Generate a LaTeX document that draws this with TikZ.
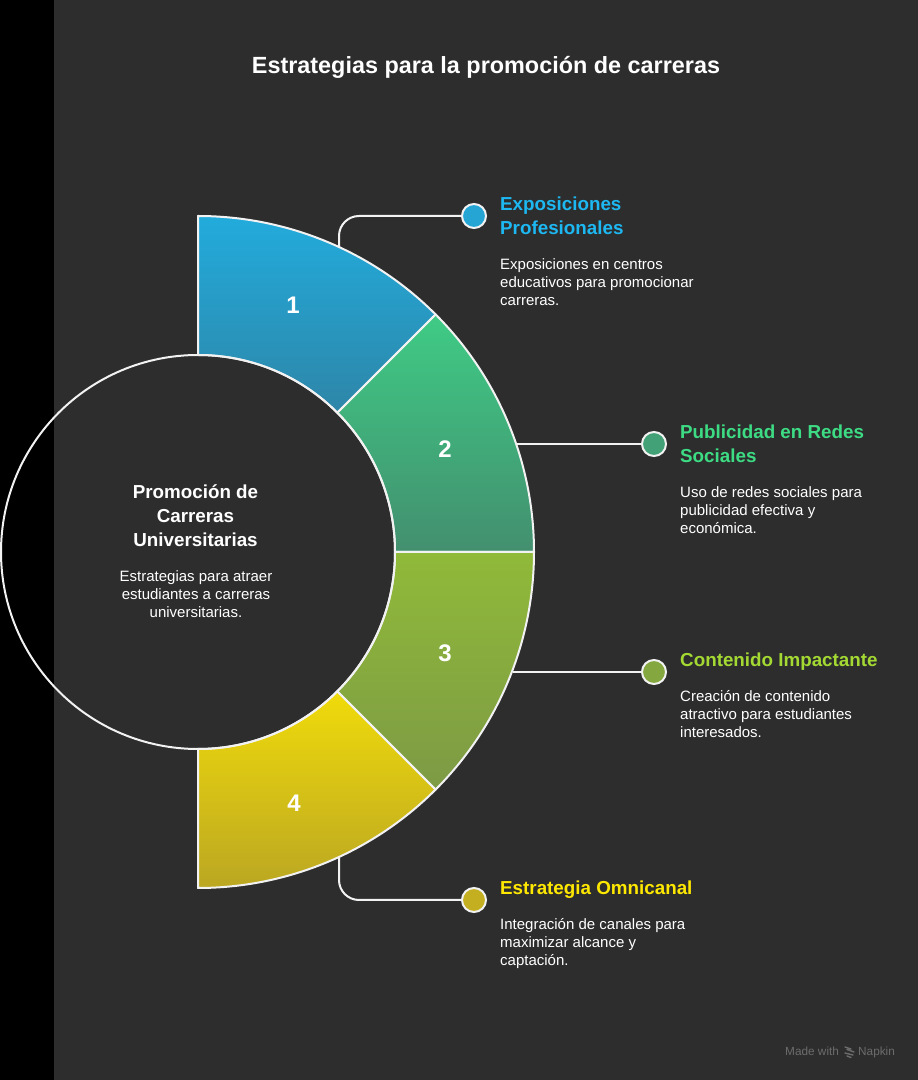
\documentclass[tikz,border=0pt]{standalone}
\usepackage{fontspec}
\setmainfont{Liberation Sans}
\usetikzlibrary{calc}
\definecolor{bgc}{HTML}{2D2D2D}
\definecolor{edgec}{HTML}{F2F2F2}
\definecolor{aT}{HTML}{22ABDC}\definecolor{aB}{HTML}{2E86A8}
\definecolor{bT}{HTML}{3FCB85}\definecolor{bB}{HTML}{438F6F}
\definecolor{cT}{HTML}{90BA39}\definecolor{cB}{HTML}{7D9A45}
\definecolor{dT}{HTML}{F0DB0B}\definecolor{dB}{HTML}{BBA722}
\definecolor{aH}{HTML}{1DB8F2}\definecolor{bH}{HTML}{3DDC84}
\definecolor{cH}{HTML}{A3D932}\definecolor{dH}{HTML}{FFE800}
\definecolor{markc}{HTML}{6C6C6C}
\tikzset{
  x=1pt,y=1pt,
  rim/.style={draw=edgec,line width=2pt,line join=round},
  conn/.style={draw=edgec,line width=2pt,rounded corners=20pt},
  dot/.style={circle,draw=edgec,line width=2pt,minimum size=24pt,inner sep=0pt},
  num/.style={text=white,font=\fontsize{24}{24}\selectfont\bfseries,inner sep=0pt},
  head/.style={anchor=north west,inner sep=0pt,align=left,font=\fontsize{18.8}{24}\selectfont\bfseries},
  body/.style={anchor=north west,inner sep=0pt,align=left,text=white,font=\fontsize{15}{18}\selectfont},
  brand/.style={text=markc,inner sep=0pt,font=\fontsize{11.8}{12}\selectfont},
}
\newcommand{\wedgepath}[2]{($(198,528)+(#1:336)$) arc[start angle=#1,end angle=#2,radius=336] -- ($(198,528)+(#2:197)$) arc[start angle=#2,end angle=#1,radius=197] -- cycle}
\begin{document}
\begin{tikzpicture}
\useasboundingbox (0,0) rectangle (918,1080);
\fill[bgc] (0,0) rectangle (918,1080);
\fill[black] (0,0) rectangle (54,1080);
\shade[top color=aT,bottom color=aB] \wedgepath{90}{45};
\shade[top color=bT,bottom color=bB] \wedgepath{45}{0};
\shade[top color=cT,bottom color=cB] \wedgepath{0}{-45};
\shade[top color=dT,bottom color=dB] \wedgepath{-45}{-90};
\draw[rim] \wedgepath{90}{45};
\draw[rim] \wedgepath{45}{0};
\draw[rim] \wedgepath{0}{-45};
\draw[rim] \wedgepath{-45}{-90};
\node[circle,draw=edgec,line width=2pt,minimum size=394pt,inner sep=0pt] (hub) at (198,528) {};
\coordinate (s1) at (339,833);
\coordinate (s2) at (516,636);
\coordinate (s3) at (513,408);
\coordinate (s4) at (339,223);
\node[dot,fill=aB!15!aT] (d1) at (474,864) {};
\node[dot,fill=bB!70!bT] (d2) at (654,636) {};
\node[dot,fill=cB!60!cT] (d3) at (654,408) {};
\node[dot,fill=dB!85!dT] (d4) at (474,180) {};
\draw[conn] (s1) |- (d1.west);
\draw[conn] (s2) -- (d2.west);
\draw[conn] (s3) -- (d3.west);
\draw[conn] (s4) |- (d4.west);
\node[num] (n1) at (293,775) {1};
\node[num] (n2) at (445,631) {2};
\node[num] (n3) at (445,427) {3};
\node[num] (n4) at (294,277) {4};
\node[inner sep=0pt,text=white,font=\fontsize{23.4}{24}\selectfont\bfseries] (title) at (486,1013) {Estrategias para la promoción de carreras};
\node[inner sep=0pt,align=center,text=white,font=\fontsize{18.8}{24}\selectfont\bfseries] (ct) at (195.5,564) {Promoción de\\Carreras\\Universitarias};
\node[inner sep=0pt,align=center,text=white,font=\fontsize{15}{18}\selectfont] (cb) at (196,486) {Estrategias para atraer\\estudiantes a carreras\\universitarias.};
\node[head,text=aH] (h1) at (500,883) {Exposiciones\\Profesionales};
\node[body] (b1) at (500,822) {Exposiciones en centros\\educativos para promocionar\\carreras.};
\node[head,text=bH] (h2) at (680,655) {Publicidad en Redes\\Sociales};
\node[body] (b2) at (680,594) {Uso de redes sociales para\\publicidad efectiva y\\económica.};
\node[head,text=cH] (h3) at (680,427) {Contenido Impactante};
\node[body] (b3) at (680,390) {Creación de contenido\\atractivo para estudiantes\\interesados.};
\node[head,text=dH] (h4) at (500,199) {Estrategia Omnicanal};
\node[body] (b4) at (500,162) {Integración de canales para\\maximizar alcance y\\captación.};
\node[brand,anchor=base west] (m1) at (785,24) {Made with};
\node[brand,anchor=base west] (m2) at (858,24) {Napkin};
\draw[markc,line width=1.4pt,line cap=round] (845,33) -- (851,31) (847,30.5) -- (854,28) (845,27) -- (853,25) (847,24) -- (851,22.5);
\end{tikzpicture}
\end{document}
